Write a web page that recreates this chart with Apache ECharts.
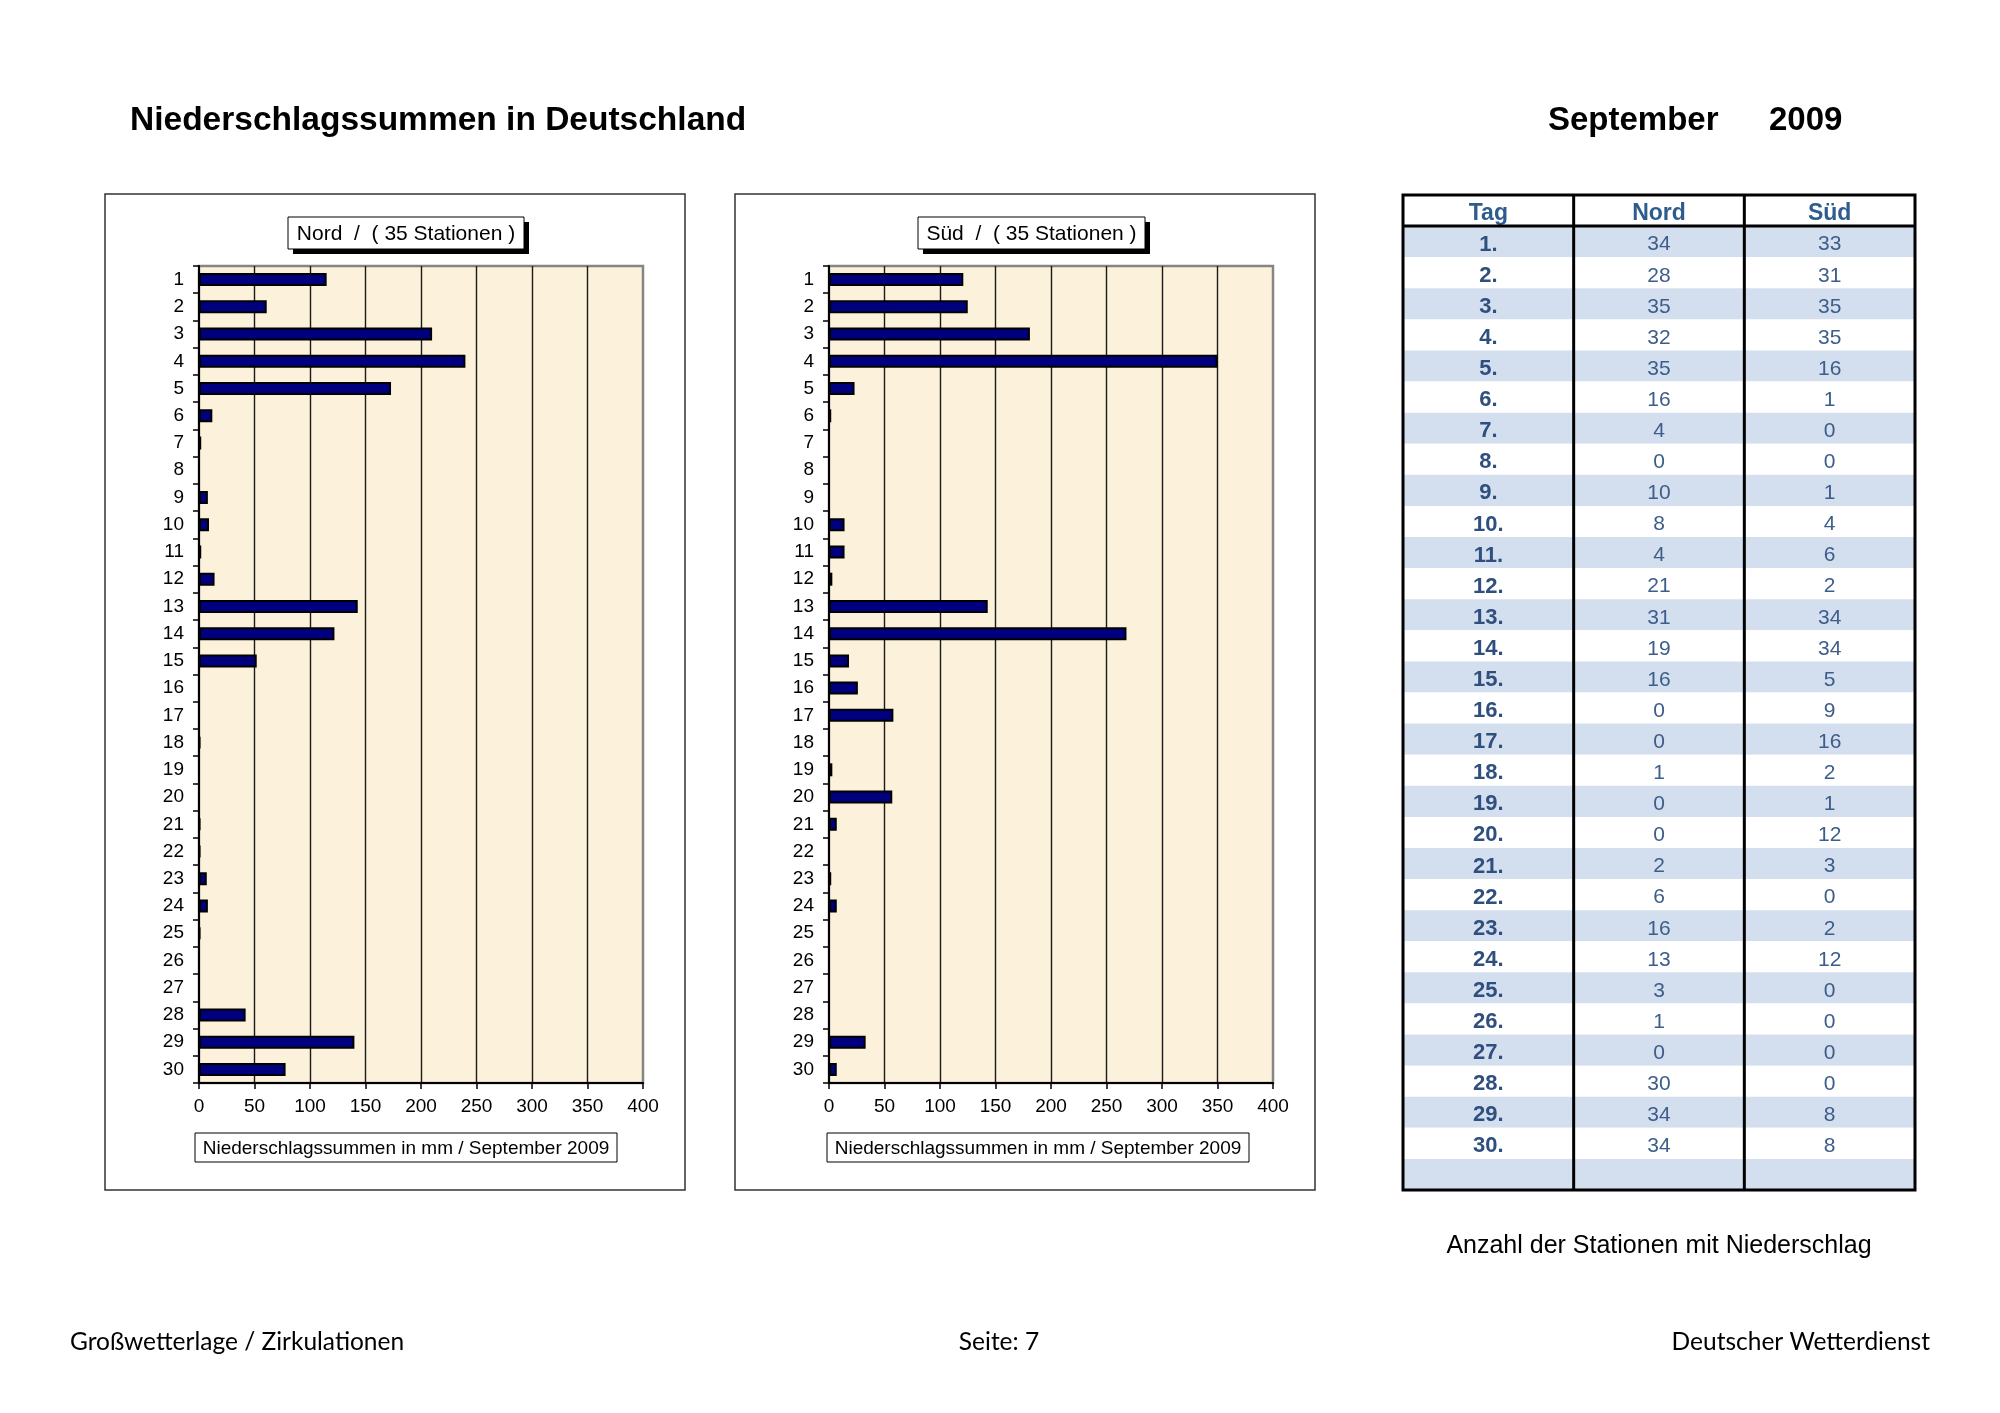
<!DOCTYPE html>
<html><head><meta charset="utf-8">
<script src="https://cdn.jsdelivr.net/npm/echarts@6/dist/echarts.min.js"></script>
<style>html,body{margin:0;padding:0;background:#fff}#c{width:2000px;height:1413px}</style>
</head><body><div id="c"></div>
<script>
// ---------- data ----------
const days = ['1','2','3','4','5','6','7','8','9','10','11','12','13','14','15','16','17','18','19','20','21','22','23','24','25','26','27','28','29','30'];
const nordMm = [115, 61, 210, 240, 173, 12, 2, 0, 8, 9, 2, 14, 143, 122, 52, 0, 0, 1, 0, 0, 1, 1, 7, 8, 1, 0, 0, 42, 140, 78];
const suedMm = [121, 125, 181, 350, 23, 2, 0, 0, 0, 14, 14, 3, 143, 268, 18, 26, 58, 0, 3, 57, 7, 0, 2, 7, 0, 0, 0, 0, 33, 7];
const tableHeader = ['Tag', 'Nord', 'Süd'];
const tableDays = ['1.','2.','3.','4.','5.','6.','7.','8.','9.','10.','11.','12.','13.','14.','15.','16.','17.','18.','19.','20.','21.','22.','23.','24.','25.','26.','27.','28.','29.','30.'];
const nordCount = [34, 28, 35, 32, 35, 16, 4, 0, 10, 8, 4, 21, 31, 19, 16, 0, 0, 1, 0, 0, 2, 6, 16, 13, 3, 1, 0, 30, 34, 34];
const suedCount = [33, 31, 35, 35, 16, 1, 0, 0, 1, 4, 6, 2, 34, 34, 5, 9, 16, 2, 1, 12, 3, 0, 2, 12, 0, 0, 0, 0, 8, 8];
const chartTitles = ['Nord  /  ( 35 Stationen )', 'Süd  /  ( 35 Stationen )'];
const axisTitle = 'Niederschlagssummen in mm / September 2009';
const xMin = 0, xMax = 400, xStep = 50;

// ---------- layout ----------
const FONT = '"Liberation Sans", Arial, sans-serif';
const FOOT = 'Lato, "Open Sans", sans-serif';
const frames = [{x:105, y:194, w:580, h:996}, {x:735, y:194, w:580, h:996}];
const grids = [{left:199, top:266, width:444, height:817}, {left:829, top:266, width:444, height:817}];
const titleBoxes = [{x:288, y:217, w:236, h:32}, {x:918, y:217, w:227, h:32}];
const subBoxes = [{x:195, y:1133, w:422, h:29}, {x:827, y:1133, w:422, h:29}];
const TBL = {x:1403, y:195, w:512, h:995, rows:32, cols:3};

// ---------- table cells ----------
const cells = [];
tableHeader.forEach((t, c) => cells.push({value:[c, 0], text:t, kind:'head'}));
for (let i = 0; i < tableDays.length; i++) {
  cells.push({value:[0, i + 1], text:tableDays[i], kind:'day'});
  cells.push({value:[1, i + 1], text:String(nordCount[i]), kind:'num'});
  cells.push({value:[2, i + 1], text:String(suedCount[i]), kind:'num'});
}
for (let c = 0; c < 3; c++) cells.push({value:[c, 31], text:'', kind:'blank'});
const rowIdx = Array.from({length:TBL.rows}, (_, i) => String(i));

const chart = echarts.init(document.getElementById('c'), null, {renderer:'canvas'});

function barGrid(i) {
  return Object.assign({show:true, backgroundColor:'#FCF1DA', borderColor:'#858585', borderWidth:2.5}, grids[i]);
}
function xAx(i) {
  return {gridIndex:i, type:'value', min:xMin, max:xMax, interval:xStep,
    axisLine:{show:true, lineStyle:{color:'#000', width:2}},
    axisTick:{show:true, length:6, lineStyle:{color:'#000', width:1.5}},
    axisLabel:{color:'#000', fontFamily:FONT, fontSize:19, margin:14},
    splitLine:{show:true, showMinLine:false, showMaxLine:false, lineStyle:{color:'#1a1a1a', width:1.4}}};
}
function yAx(i) {
  return {gridIndex:i, type:'category', data:days, inverse:true,
    axisLine:{show:true, lineStyle:{color:'#000', width:2}},
    axisTick:{show:true, length:6, lineStyle:{color:'#000', width:1.5}},
    axisLabel:{color:'#000', fontFamily:FONT, fontSize:19, margin:15, interval:0},
    splitLine:{show:false}};
}
function barSeries(i, data) {
  return {type:'bar', xAxisIndex:i, yAxisIndex:i, data:data, barWidth:13,
    itemStyle:{color:'#00007E', borderColor:'#000', borderWidth:2}, silent:true};
}

const graphics = [];
frames.forEach(f => graphics.push({type:'rect', shape:{x:f.x, y:f.y, width:f.w, height:f.h}, style:{fill:null, stroke:'#333', lineWidth:1.5}, z:100}));
titleBoxes.forEach((b, i) => {
  graphics.push({type:'rect', shape:{x:b.x + 5, y:b.y + 5, width:b.w, height:b.h}, style:{fill:'#000'}, z:100});
  graphics.push({type:'rect', shape:{x:b.x, y:b.y, width:b.w, height:b.h}, style:{fill:'#fff', stroke:'#000', lineWidth:1}, z:101});
  graphics.push({type:'text', x:b.x + b.w / 2, y:b.y + b.h / 2 + 1, style:{text:chartTitles[i], font:'21px ' + FONT, fill:'#000', align:'center', verticalAlign:'middle', textAlign:'center', textVerticalAlign:'middle'}, z:102});
});
subBoxes.forEach(b => {
  graphics.push({type:'rect', shape:{x:b.x, y:b.y, width:b.w, height:b.h}, style:{fill:'#fff', stroke:'#000', lineWidth:1}, z:101});
  graphics.push({type:'text', x:b.x + b.w / 2, y:b.y + b.h / 2 + 1, style:{text:axisTitle, font:'19px ' + FONT, fill:'#000', align:'center', verticalAlign:'middle', textAlign:'center', textVerticalAlign:'middle'}, z:102});
});
// table frame lines
graphics.push({type:'rect', shape:{x:TBL.x, y:TBL.y, width:TBL.w, height:TBL.h}, style:{fill:null, stroke:'#000', lineWidth:3}, z:110});
for (let c = 1; c < TBL.cols; c++) {
  const x = TBL.x + TBL.w * c / TBL.cols;
  graphics.push({type:'line', shape:{x1:x, y1:TBL.y, x2:x, y2:TBL.y + TBL.h}, style:{stroke:'#000', lineWidth:3}, z:110});
}
const hy = TBL.y + TBL.h / TBL.rows;
graphics.push({type:'line', shape:{x1:TBL.x, y1:hy, x2:TBL.x + TBL.w, y2:hy}, style:{stroke:'#000', lineWidth:3}, z:110});
// page texts
const txt = (s, x, y, font, align, color) => ({type:'text', x:x, y:y, style:{text:s, font:font, fill:color || '#000', align:align, verticalAlign:'middle', textAlign:align, textVerticalAlign:'middle'}, z:120});
graphics.push(txt('Niederschlagssummen in Deutschland', 130, 121, 'bold 33.5px ' + FONT, 'left'));
graphics.push(txt('September', 1548, 121, 'bold 33px ' + FONT, 'left'));
graphics.push(txt('2009', 1769, 121, 'bold 33px ' + FONT, 'left'));
graphics.push(txt('Anzahl der Stationen mit Niederschlag', 1659, 1246, '25px ' + FONT, 'center'));
graphics.push(txt('Großwetterlage / Zirkulationen', 70, 1342, '24.5px ' + FOOT, 'left'));
graphics.push(txt('Seite: 7', 999, 1342, '24.5px ' + FOOT, 'center'));
graphics.push(txt('Deutscher Wetterdienst', 1930, 1342, '24.5px ' + FOOT, 'right'));

const option = {
  animation:false,
  backgroundColor:'#fff',
  grid:[barGrid(0), barGrid(1), {left:TBL.x, top:TBL.y, width:TBL.w, height:TBL.h, show:false}],
  xAxis:[xAx(0), xAx(1), {gridIndex:2, type:'category', data:tableHeader, show:false}],
  yAxis:[yAx(0), yAx(1), {gridIndex:2, type:'category', data:rowIdx, inverse:true, show:false}],
  series:[
    barSeries(0, nordMm),
    barSeries(1, suedMm),
    {type:'custom', xAxisIndex:2, yAxisIndex:2, silent:true, data:cells.map(c => c.value),
      renderItem:function(params, api){
        const cell = cells[params.dataIndex];
        const p = api.coord([api.value(0), api.value(1)]);
        const s = api.size([1, 1]);
        const r = cell.value[1];
        const fill = (r % 2 === 1) ? '#D3DFEE' : '#FFFFFF';
        let font = '21px ' + FONT, color = '#3D5D8A';
        if (cell.kind === 'head') { font = 'bold 23px ' + FONT; color = '#2F5C8F'; }
        if (cell.kind === 'day') { font = 'bold 22px ' + FONT; color = '#2F4F7F'; }
        return {type:'group', children:[
          {type:'rect', shape:{x:p[0] - s[0] / 2, y:p[1] - s[1] / 2, width:s[0], height:s[1]}, style:{fill:fill}},
          {type:'text', x:p[0], y:p[1] + 3, style:{text:cell.text, font:font, fill:color, align:'center', verticalAlign:'middle', textAlign:'center', textVerticalAlign:'middle'}}
        ]};
      }}
  ],
  graphic:{elements:graphics}
};
chart.setOption(option);
</script></body></html>
